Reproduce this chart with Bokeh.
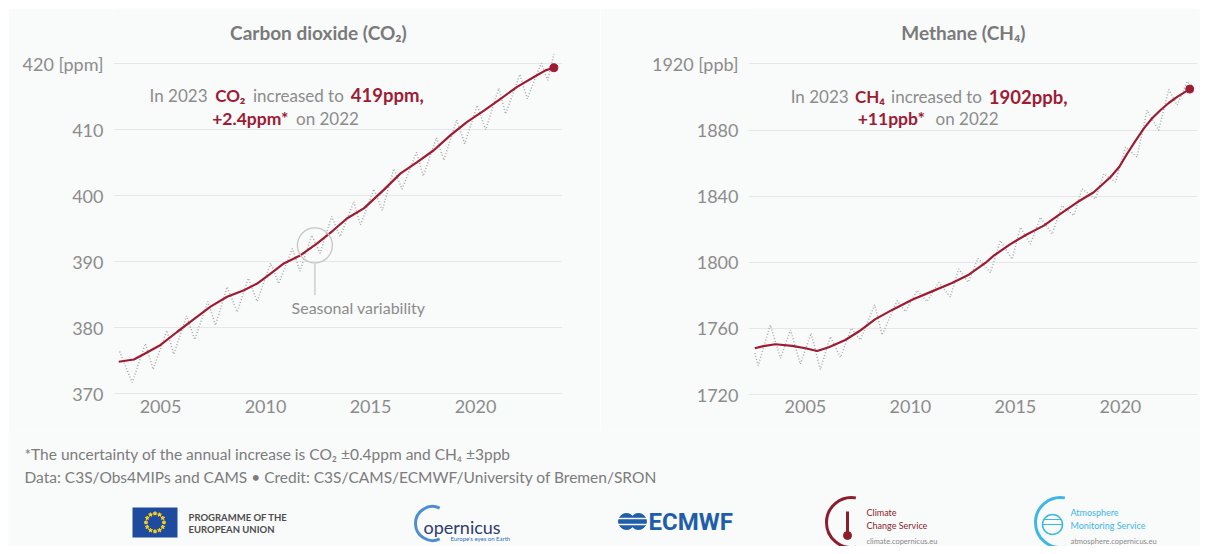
import math
from bokeh.plotting import figure
from bokeh.layouts import column, row
from bokeh.models import Range1d, FixedTicker, Label, Spacer
from bokeh.embed import file_html
from bokeh.resources import INLINE
from bokeh.core.properties import value

# ---------------- data ----------------
year_ticks = [2005, 2010, 2015, 2020]
co2_ticks = [370, 380, 390, 400, 410, 420]
ch4_ticks = [1720, 1760, 1800, 1840, 1880, 1920]

co2_trend_year = [2003.01, 2003.73, 2004.2, 2005.0, 2005.8, 2006.59, 2007.38, 2008.17, 2008.97,
                  2009.6, 2010.24, 2010.87, 2011.67, 2012.46, 2013.2, 2013.89, 2014.68, 2015.63,
                  2016.43, 2017.22, 2018.01, 2018.81, 2019.6, 2020.4, 2021.19, 2021.98, 2022.78,
                  2023.33, 2023.73]
co2_trend_ppm = [374.85, 375.2, 376.0, 377.4, 379.4, 381.3, 383.2, 384.7, 385.7,
                 386.7, 388.2, 389.75, 391.0, 392.8, 394.7, 396.6, 398.1, 400.9,
                 403.4, 405.1, 406.9, 409.2, 411.2, 412.9, 414.7, 416.5, 418.0,
                 419.0, 419.4]

co2_season_year = [2003.05, 2003.65, 2004.28, 2004.65, 2005.3, 2005.63, 2006.24, 2006.63, 2007.25,
                   2007.62, 2008.17, 2008.65, 2009.18, 2009.6, 2010.24, 2010.63, 2011.27, 2011.64,
                   2012.2, 2012.6, 2013.15, 2013.55, 2014.2, 2014.52, 2015.16, 2015.56, 2016.11,
                   2016.5, 2017.19, 2017.51, 2018.14, 2018.49, 2019.1, 2019.48, 2020.08, 2020.48,
                   2021.11, 2021.43, 2022.11, 2022.46, 2023.13, 2023.44, 2023.73]
co2_season_ppm = [376.4, 371.7, 377.6, 373.7, 379.6, 376.0, 381.8, 378.2, 384.0,
                  380.4, 386.2, 382.4, 387.5, 384.0, 389.8, 386.7, 392.0, 388.6,
                  394.0, 391.3, 396.9, 393.8, 399.1, 395.6, 401.0, 397.8, 404.1,
                  401.0, 406.6, 403.0, 408.8, 405.4, 411.5, 407.9, 413.7, 410.0,
                  416.3, 412.4, 418.4, 414.7, 420.1, 417.5, 421.5]

ch4_trend_year = [2002.59, 2003.0, 2003.57, 2004.37, 2005.0, 2005.56, 2006.11, 2006.9, 2007.54,
                  2008.33, 2009.13, 2010.08, 2011.03, 2011.98, 2012.78, 2013.57, 2013.97, 2014.76,
                  2015.56, 2016.35, 2017.14, 2017.94, 2018.73, 2019.52, 2019.95, 2020.32, 2020.7,
                  2021.11, 2021.5, 2021.9, 2022.3, 2022.7, 2023.3]
ch4_trend_ppb = [1748.0, 1749.3, 1750.4, 1749.4, 1748.0, 1746.3, 1748.6, 1753.0, 1758.1,
                 1765.6, 1771.2, 1777.3, 1782.4, 1787.5, 1792.5, 1799.6, 1804.0, 1811.0,
                 1817.0, 1822.2, 1829.3, 1836.3, 1842.4, 1851.5, 1857.8, 1865.7, 1873.2,
                 1880.9, 1887.0, 1892.0, 1896.4, 1900.1, 1904.8]

ch4_season_year = [2002.59, 2002.75, 2003.33, 2003.81, 2004.29, 2004.76, 2005.27, 2005.71, 2006.19,
                   2006.67, 2007.19, 2007.62, 2008.3, 2008.65, 2009.37, 2009.76, 2010.32, 2010.79,
                   2011.35, 2011.9, 2012.3, 2012.75, 2013.22, 2013.81, 2014.29, 2014.84, 2015.24,
                   2015.71, 2016.19, 2016.75, 2017.22, 2017.78, 2018.17, 2018.81, 2019.21, 2019.76,
                   2020.24, 2020.79, 2021.27, 2021.82, 2022.3, 2022.7, 2023.18, 2023.4]
ch4_season_ppb = [1745.0, 1737.5, 1762.1, 1741.9, 1759.1, 1738.4, 1757.1, 1735.2, 1755.0,
                  1742.5, 1760.1, 1753.0, 1774.3, 1756.0, 1776.7, 1770.2, 1783.0, 1776.3,
                  1787.8, 1779.0, 1796.0, 1788.0, 1802.3, 1793.8, 1813.1, 1801.9, 1821.1,
                  1811.0, 1827.2, 1817.1, 1834.3, 1828.3, 1844.5, 1838.4, 1853.6, 1848.5,
                  1869.7, 1863.7, 1892.0, 1879.9, 1904.6, 1895.1, 1909.3, 1907.0]

# ---------------- style ----------------
BG = "#f9fafa"
RED = "#9e1b34"
GRAY = "#8c8c8c"
TITLE_GRAY = "#7a7a7a"
DOT_GRAY = "#a9a9a9"
FONT = "Lato"


def make_panel(width, left, right, xr, yr, yticks, unit):
    p = figure(width=width, height=422, x_range=Range1d(*xr), y_range=Range1d(*yr),
               output_backend="svg", toolbar_location=None,
               min_border_left=left, min_border_right=right,
               min_border_top=0, min_border_bottom=35)
    p.background_fill_color = BG
    p.border_fill_color = BG
    p.outline_line_color = None
    p.xgrid.visible = False
    p.ygrid.ticker = FixedTicker(ticks=yticks)
    p.ygrid.grid_line_color = "#e6e7e8"
    p.ygrid.grid_line_width = 1
    for ax in (p.xaxis[0], p.yaxis[0]):
        ax.axis_line_color = None
        ax.major_tick_line_color = None
        ax.minor_tick_line_color = None
        ax.major_label_text_font = FONT
        ax.major_label_text_font_size = "18px"
        ax.major_label_text_color = GRAY
    p.xaxis[0].ticker = FixedTicker(ticks=year_ticks)
    p.yaxis[0].ticker = FixedTicker(ticks=yticks)
    p.yaxis[0].major_label_overrides = {yticks[-1]: f"{yticks[-1]} {unit}"}
    p.xaxis[0].major_label_standoff = -2
    p.yaxis[0].major_label_standoff = 4
    return p


def seg_label(p, x, y, text, color, bold=False, size="17px", align="left"):
    p.add_layout(Label(x=x, y=y, text=text, text_color=color, text_font=FONT,
                       text_font_size=size, text_font_style="bold" if bold else "normal",
                       text_align=align, text_baseline="middle"))


# ---------------- CO2 panel ----------------
p1 = make_panel(592, 105, 38, (2002.76, 2024.14), (369.74, 428.38), co2_ticks, "[ppm]")
p1.line(co2_season_year, co2_season_ppm, line_color=DOT_GRAY, line_width=1.5, line_dash="1 2")
p1.line(co2_trend_year, co2_trend_ppm, line_color=RED, line_width=2.2)
p1.scatter([co2_trend_year[-1]], [co2_trend_ppm[-1]], size=8, color=RED)
seg_label(p1, 2012.52, 424.74, "Carbon dioxide (CO\u2082)", TITLE_GRAY, bold=True, size="19px", align="center")
seg_label(p1, 2004.48, 415.2, "In 2023", GRAY)
seg_label(p1, 2007.60, 415.2, "CO\u2082", RED, bold=True, size="17px")
seg_label(p1, 2009.40, 415.2, "increased to", GRAY)
seg_label(p1, 2014.06, 415.2, "419ppm,", RED, bold=True, size="18.5px")
seg_label(p1, 2007.46, 411.67, "+2.4ppm*", RED, bold=True, size="17.5px")
seg_label(p1, 2011.45, 411.67, "on 2022", GRAY)
# seasonal variability callout
p1.scatter([2012.35], [392.5], size=35, marker="circle", fill_color=None,
           line_color="#c6c6c6", line_width=1.3)
p1.segment([2012.35], [389.76], [2012.35], [384.95], line_color="#c6c6c6", line_width=1.3)
seg_label(p1, 2011.24, 383.0, "Seasonal variability", GRAY, size="16px")

# ---------------- CH4 panel ----------------
p2 = make_panel(600, 148, 3, (2002.29, 2023.67), (1719.4, 1953.58), ch4_ticks, "[ppb]")
p2.line(ch4_season_year, ch4_season_ppb, line_color=DOT_GRAY, line_width=1.5, line_dash="1 2")
p2.line(ch4_trend_year, ch4_trend_ppb, line_color=RED, line_width=2.2)
p2.scatter([ch4_trend_year[-1]], [ch4_trend_ppb[-1]], size=8, color=RED)
seg_label(p2, 2012.52, 1939.1, "Methane (CH\u2084)", TITLE_GRAY, bold=True, size="19px", align="center")
seg_label(p2, 2004.30, 1900.3, "In 2023", GRAY)
seg_label(p2, 2007.36, 1900.3, "CH\u2084", RED, bold=True, size="17px")
seg_label(p2, 2009.08, 1900.3, "increased to", GRAY)
seg_label(p2, 2013.73, 1900.3, "1902ppb,", RED, bold=True, size="18.5px")
seg_label(p2, 2007.49, 1886.8, "+11ppb*", RED, bold=True, size="17.5px")
seg_label(p2, 2011.2, 1886.8, "on 2022", GRAY)

# ---------------- footer ----------------
f = figure(width=1192, height=116, x_range=Range1d(8, 1200), y_range=Range1d(0, 116),
           output_backend="svg", toolbar_location=None,
           x_axis_location=None, y_axis_location=None, min_border=0)
f.background_fill_color = BG
f.border_fill_color = BG
f.outline_line_color = None
f.xgrid.visible = False
f.ygrid.visible = False


def Y(py):
    return 546 - py


def ftext(x, py, text, color, size, bold=False, align="left", font=FONT):
    f.text([x], [Y(py)], text=[text], text_color=color, text_font=value(font),
           text_font_size=size, text_font_style="bold" if bold else "normal",
           text_align=align, text_baseline="middle")


ftext(24, 453, "*The uncertainty of the annual increase is CO\u2082 \u00b10.4ppm and CH\u2084 \u00b13ppb", "#7c7c7c", "15.5px")
ftext(24, 476, "Data: C3S/Obs4MIPs and CAMS \u2022 Credit: C3S/CAMS/ECMWF/University of Bremen/SRON", "#7c7c7c", "15.5px")

# EU flag
f.rect([154.5], [Y(522)], width=45, height=30, fill_color="#1f4b9e", line_color=None)
sx = [154.5 + 9 * math.cos(2 * math.pi * k / 12) for k in range(12)]
sy = [Y(522) + 9 * math.sin(2 * math.pi * k / 12) for k in range(12)]
f.scatter(sx, sy, marker="star", size=4, color="#ffd617")
ftext(188, 517, "PROGRAMME OF THE", "#4d4d4d", "9.5px", bold=True)
ftext(188, 529, "EUROPEAN UNION", "#4d4d4d", "9.5px", bold=True)

# Copernicus
f.arc([432], [Y(523)], radius=17, start_angle=math.radians(65), end_angle=math.radians(295),
      line_color="#4f8fd0", line_width=3)
ftext(423, 526, "opernicus", "#2d3b6e", "18px")
ftext(450, 538, "Europe's eyes on Earth", "#2b6fbd", "6px")

# ECMWF
f.scatter([626, 638], [Y(521), Y(521)], size=16, color="#1f5ea8")
f.segment([617, 617], [Y(518), Y(524)], [647, 647], [Y(518), Y(524)], line_color=BG, line_width=1.5)
ftext(648, 521, "ECMWF", "#1f5ea8", "24px", bold=True, font="Roboto")

# Climate Change Service
f.arc([851], [Y(522)], radius=25, start_angle=math.radians(80), end_angle=math.radians(280),
      line_color="#8b1d2c", line_width=3)
f.segment([847], [Y(511)], [847], [Y(532)], line_color="#8b1d2c", line_width=3)
f.scatter([847], [Y(535)], size=8, color="#8b1d2c")
ftext(866, 512, "Climate", "#8b1d2c", "9px")
ftext(866, 525, "Change Service", "#8b1d2c", "9px")
ftext(866, 541, "climate.copernicus.eu", "#8a8a8a", "7.5px")

# Atmosphere Monitoring Service
f.arc([1060], [Y(522)], radius=25, start_angle=math.radians(80), end_angle=math.radians(280),
      line_color="#3db7e4", line_width=3)
f.scatter([1052], [Y(524)], size=20, marker="circle", fill_color=None, line_color="#3db7e4", line_width=1.5)
f.segment([1042, 1043], [Y(524), Y(519)], [1062, 1061], [Y(524), Y(519)], line_color="#3db7e4", line_width=1)
ftext(1070, 512, "Atmosphere", "#3db7e4", "9px")
ftext(1070, 525, "Monitoring Service", "#3db7e4", "9px")
ftext(1070, 541, "atmosphere.copernicus.eu", "#8a8a8a", "7.5px")

inner = column(row(p1, p2, spacing=0), f, spacing=0)
layout = column(Spacer(height=8), row(Spacer(width=8), inner, spacing=0), spacing=0)
open("out.html", "w").write(file_html(layout, INLINE))
